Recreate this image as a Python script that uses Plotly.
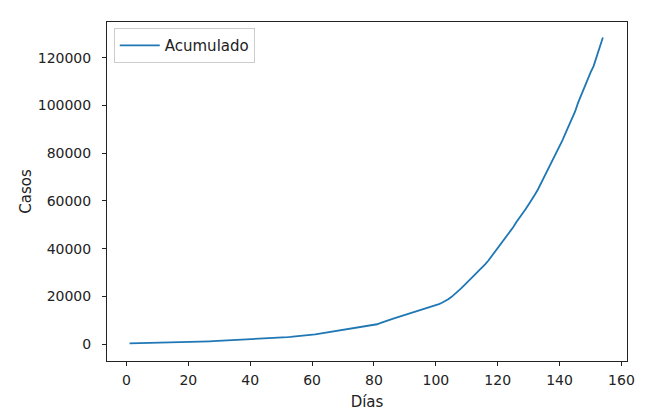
import plotly.graph_objects as go

dias = list(range(1, 155))
acumulado = [
    300, 320, 340, 360, 380, 400, 420, 440, 460, 480,
    500, 520, 550, 580, 610, 640, 670, 700, 740, 780,
    820, 870, 920, 970, 1020, 1080, 1140, 1200, 1260, 1320,
    1380, 1440, 1500, 1560, 1610, 1660, 1720, 1780, 1840, 1900,
    1960, 2030, 2100, 2170, 2250, 2330, 2420, 2510, 2600, 2700,
    2800, 2900, 3000, 3100, 3200, 3320, 3450, 3580, 3720, 3870,
    4050, 4250, 4450, 4650, 4850, 5050, 5250, 5450, 5650, 5850,
    6050, 6250, 6450, 6650, 6850, 7050, 7250, 7450, 7700, 7950,
    8300, 8800, 9300, 9750, 10150, 10550, 10950, 11350, 11750, 12150,
    12550, 12950, 13350, 13750, 14150, 14550, 14950, 15350, 15800, 16250,
    16750, 17300, 17950, 18750, 19700, 20750, 21900, 23150, 24400, 25650,
    26900, 28200, 29500, 30800, 32100, 33500, 35000, 36700, 38300, 40100,
    41700, 43500, 45200, 47300, 49000, 51100, 52800, 54800, 56500, 58500,
    60300, 62600, 64800, 67400, 69600, 72300, 74600, 77500, 80000, 83000,
    85600, 88600, 91300, 94600, 97400, 101200, 104300, 108200, 110900, 113800,
    116500, 120500, 124500, 128500,
]

x_ticks = [0, 20, 40, 60, 80, 100, 120, 140, 160]
y_ticks = [0, 20000, 40000, 60000, 80000, 100000, 120000]

font_family = "DejaVu Sans"
txt = "#222222"

fig = go.Figure()
fig.add_trace(go.Scatter(
    x=dias, y=acumulado, mode="lines", name="Acumulado",
    line=dict(color="#1f77b4", width=1.8),
))

axis_common = dict(
    showline=True, linecolor="#222222", linewidth=1, mirror=True,
    ticks="outside", ticklen=4, tickwidth=1, tickcolor="#222222",
    showgrid=False, zeroline=False, automargin=False,
    tickfont=dict(family=font_family, size=14, color=txt),
)

fig.update_layout(
    width=642, height=409,
    margin=dict(l=99, r=23, t=14, b=56),
    paper_bgcolor="white", plot_bgcolor="white",
    font=dict(family=font_family, size=14, color=txt),
    showlegend=True,
    legend=dict(
        x=0.013, y=0.982, xanchor="left", yanchor="top",
        bordercolor="#cccccc", borderwidth=1, bgcolor="rgba(255,255,255,0.8)",
        font=dict(family=font_family, size=15, color=txt),
        itemwidth=40,
    ),
    xaxis=dict(
        axis_common, range=[-6.3, 161.8], tickvals=x_ticks,
        ticktext=[str(v) for v in x_ticks], ticklabelstandoff=2,
        title=dict(text="Días", font=dict(family=font_family, size=15, color=txt), standoff=9),
    ),
    yaxis=dict(
        axis_common, range=[-7100, 135000], tickvals=y_ticks,
        ticktext=[str(v) for v in y_ticks], ticklabelstandoff=8,
        title=dict(text="Casos", font=dict(family=font_family, size=15, color=txt), standoff=2),
    ),
)

fig.write_html("out.html")
